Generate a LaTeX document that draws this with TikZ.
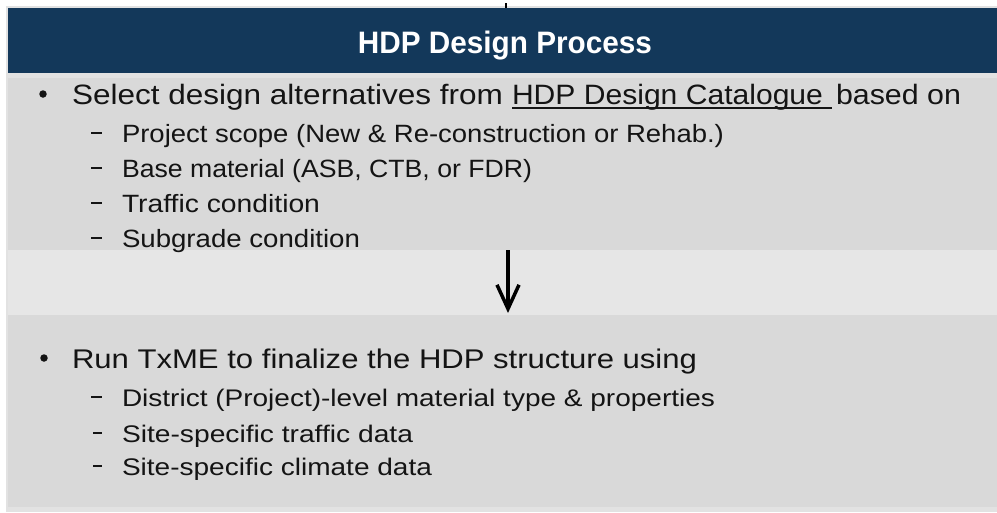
\documentclass[tikz,border=0pt]{standalone}
\usepackage{fontspec}
\setmainfont{Liberation Sans}
\usepackage{graphicx}
\usetikzlibrary{arrows.meta}
\definecolor{navy}{RGB}{19,56,90}
\definecolor{boxgray}{RGB}{217,217,217}
\definecolor{bandgray}{RGB}{230,230,230}
\definecolor{edgegray}{RGB}{226,226,226}
\definecolor{inkgray}{RGB}{20,20,20}
\newcommand\fitline[6]{\node[txt] (#1) at (#2,#3) {\fontsize{#4}{#4}\selectfont\resizebox{#5pt}{\height}{#6}};}
\begin{document}
\begin{tikzpicture}[x=1pt,y=-1pt,
  txt/.style={anchor=base west,inner sep=0pt,outer sep=0pt,text=inkgray},
  bul/.style={circle,fill=inkgray,inner sep=0pt,minimum size=7.5pt},
  dashmark/.style={line width=2pt,draw=inkgray}]
\useasboundingbox (0,0) rectangle (997,512);
\fill[white] (0,0) rectangle (997,512);
\fill[edgegray] (6,6) rectangle (997,512);
\fill[navy] (8,8) rectangle (997,73);
\draw[line width=1.5pt,black] (506,3) -- (506,8);
\fill[boxgray] (8,78) rectangle (997,250);
\fill[bandgray] (8,250) rectangle (997,315);
\fill[boxgray] (8,315) rectangle (997,507);
% title
\node[anchor=base,inner sep=0pt,text=white,font=\fontsize{31}{31}\selectfont\bfseries] (title) at (505,53) {\resizebox{294pt}{\height}{HDP Design Process}};
% upper section
\node[bul] (b1) at (43,94) {};
\fitline{l1a}{72}{104}{28}{431}{Select design alternatives from}
\fitline{l1b}{512}{104}{28}{311}{HDP Design Catalogue}
\fitline{l1c}{836}{104}{28}{125}{based on}
\draw[line width=1.3pt,inkgray] ([yshift=-4pt]l1b.base west) -- ++(320,0);
\draw[dashmark] (91,133) -- (102,133);
\fitline{s1}{122}{142}{25}{602}{Project scope (New \& Re-construction or Rehab.)}
\draw[dashmark] (91,168) -- (102,168);
\fitline{s2}{122}{177}{25}{410}{Base material (ASB, CTB, or FDR)}
\draw[dashmark] (91,203) -- (102,203);
\fitline{s3}{122}{212}{25}{198}{Traffic condition}
\draw[dashmark] (91,238) -- (102,238);
\fitline{s4}{122}{247}{25}{238}{Subgrade condition}
% arrow
\coordinate (atop) at (508,250);
\coordinate (abot) at (508,313);
\draw[line width=3.5pt,-{Straight Barb[length=24pt,width=22pt,line width=3.5pt]}] (atop) -- (abot);
% lower section
\node[bul] (b2) at (44,358) {};
\fitline{l2}{72}{368}{27}{625}{Run TxME to finalize the HDP structure using}
\draw[dashmark] (91,397) -- (102,397);
\fitline{t1}{122}{406}{24}{593}{District (Project)-level material type \& properties}
\draw[dashmark] (93,433) -- (102,433);
\fitline{t2}{122}{442}{24}{291}{Site-specific traffic data}
\draw[dashmark] (93,466) -- (102,466);
\fitline{t3}{122}{475}{24}{310}{Site-specific climate data}
\end{tikzpicture}
\end{document}
